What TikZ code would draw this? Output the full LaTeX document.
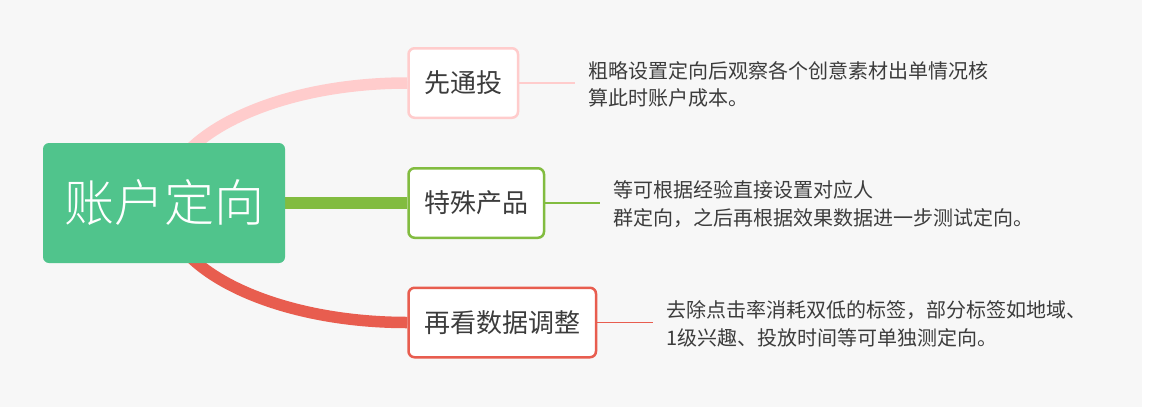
\documentclass[tikz,border=0pt]{standalone}
\usepackage{fontspec}
\newfontfamily\cjk{Noto Sans CJK SC}
\newfontfamily\cjklight{Noto Sans CJK SC}[UprightFont={* Light}]
\usetikzlibrary{positioning,calc,backgrounds}
\definecolor{rootgreen}{HTML}{50C48C}
\definecolor{tipink}{HTML}{FFCCCC}
\definecolor{leafgreen}{HTML}{82BC40}
\definecolor{tired}{HTML}{E85D4F}
\definecolor{inkgray}{HTML}{3C3C3C}
\definecolor{canvas}{HTML}{F7F7F7}

\begin{document}
\begin{tikzpicture}[
  x=1pt, y=-1pt,
  rootbox/.style={fill=rootgreen, rounded corners=6pt, text=white, font=\cjklight\fontsize{50}{60}\selectfont, minimum width=242pt, minimum height=120pt, inner sep=0pt},
  topicbox/.style={draw=#1, fill=white, rounded corners=6pt, line width=2.5pt, text=inkgray, font=\cjk\fontsize{26}{32}\selectfont, minimum height=69.5pt, inner xsep=15.75pt, inner ysep=0pt, anchor=west},
  notetext/.style={font=\cjk\fontsize{20}{27.5}\selectfont, text=inkgray, align=left, inner xsep=13pt, inner ysep=0pt, anchor=west},
  branch/.style={draw=#1, line width=11.5pt},
  twig/.style={draw=#1, line width=1.4pt}
]
  \useasboundingbox (0,0) rectangle (1150,407);

  \node[rootbox] (root) at (164,203) {账户定向};

  \node[topicbox=tipink] (n1) at (407.25,83) {先通投};
  \node[topicbox=leafgreen] (n2) at (407.25,203) {特殊产品};
  \node[topicbox=tired] (n3) at (407.25,322.5) {再看数据调整};

  \node[notetext] (t1) at (575,84.5) {粗略设置定向后观察各个创意素材出单情况核\\算此时账户成本。};
  \node[notetext] (t2) at (600,204) {等可根据经验直接设置对应人\\群定向，之后再根据效果数据进一步测试定向。};
  \node[notetext] (t3) at (653,324) {去除点击率消耗双低的标签，部分标签如地域、\\1级兴趣、投放时间等可单独测定向。};

  \draw[twig=tipink] (n1.east) -- (n1.east -| t1.west);
  \draw[twig=leafgreen] (n2.east) -- (n2.east -| t2.west);
  \draw[twig=tired] (n3.east) -- (n3.east -| t3.west);

  \begin{scope}[on background layer]
    \fill[canvas] (0,0) rectangle (1142,407);
    \fill[white] (1142,0) rectangle (1150,407);
    \draw[branch=tipink] (root.center) .. controls +(0,-66) and +(-134,0) .. (n1.west);
    \draw[branch=leafgreen] (root.center) -- (n2.west);
    \draw[branch=tired] (root.center) .. controls +(0,66) and +(-134,0) .. (n3.west);
  \end{scope}
\end{tikzpicture}
\end{document}
